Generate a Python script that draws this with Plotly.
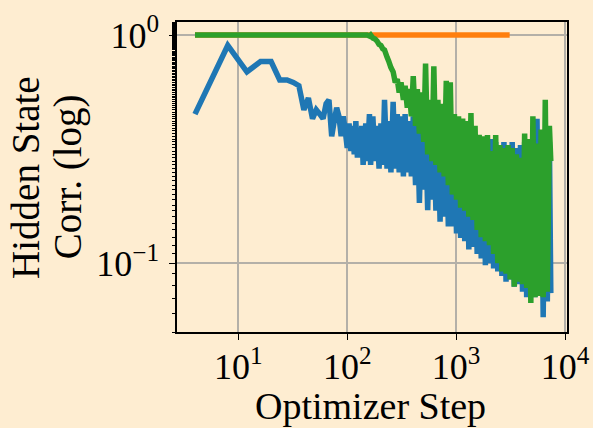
import plotly.graph_objects as go

# ---------------- data ----------------
EARLY_STEPS = [4, 8, 12, 16, 20, 24, 28, 32, 36, 40, 44, 48, 52, 56, 60,
               64, 68, 72, 76, 80, 84, 88, 92, 96, 100]
BLUE_EARLY = [0.45, 0.90, 0.69, 0.765, 0.765, 0.635, 0.635, 0.62, 0.60, 0.47,
              0.53, 0.43, 0.47, 0.45, 0.43, 0.50, 0.52, 0.36, 0.42, 0.48,
              0.44, 0.36, 0.44, 0.38, 0.32]
GREEN_EARLY = [1.0] * 25

DENSE_STEPS = [104, 108, 112, 116, 120, 124, 128, 132, 136, 140,
               148, 152, 160, 164, 172, 180, 188, 196, 204, 212,
               220, 232, 240, 252, 264, 276, 288, 300, 312, 328,
               340, 356, 372, 388, 404, 424, 440, 460, 480, 504,
               524, 548, 572, 600, 624, 652, 680, 712, 744, 776,
               812, 848, 884, 924, 964, 1008, 1052, 1100, 1148, 1200,
               1252, 1308, 1368, 1428, 1492, 1560, 1628, 1700, 1776, 1856,
               1940, 2024, 2116, 2208, 2308, 2412, 2520, 2632, 2748, 2872,
               3000, 3132, 3272, 3420, 3572, 3732, 3900, 4072, 4256, 4444,
               4644, 4852, 5068, 5292, 5528, 5776, 6032, 6300, 6584, 6876,
               7184, 7400]
BLUE_DENSE = [0.41, 0.31, 0.40, 0.30, 0.42, 0.29, 0.39, 0.31, 0.40, 0.27,
              0.41, 0.28, 0.45, 0.27, 0.44, 0.28, 0.40, 0.26, 0.41, 0.27,
              0.52, 0.26, 0.42, 0.25, 0.51, 0.26, 0.45, 0.25, 0.44, 0.24,
              0.45, 0.25, 0.42, 0.24, 0.44, 0.22, 0.42, 0.184, 0.40, 0.21,
              0.41, 0.171, 0.40, 0.19, 0.39, 0.17, 0.40, 0.152, 0.38, 0.16,
              0.39, 0.145, 0.37, 0.145, 0.38, 0.135, 0.37, 0.129, 0.36, 0.125,
              0.37, 0.115, 0.36, 0.118, 0.35, 0.11, 0.36, 0.105, 0.35, 0.098,
              0.34, 0.10, 0.35, 0.095, 0.34, 0.092, 0.33, 0.088, 0.34, 0.083,
              0.33, 0.085, 0.34, 0.079, 0.32, 0.081, 0.33, 0.075, 0.34, 0.071,
              0.33, 0.073, 0.35, 0.071, 0.43, 0.072, 0.36, 0.058, 0.35, 0.068,
              0.34, 0.074]
GREEN_DENSE = [1.0, 1.0, 1.0, 1.0, 1.0, 1.0, 1.0, 1.0, 1.0, 1.0,
               1.0, 1.0, 0.99, 1.0, 0.97, 0.96, 0.94, 0.91, 0.90, 0.87,
               0.86, 0.80, 0.77, 0.72, 0.69, 0.62, 0.64, 0.56, 0.62, 0.52,
               0.60, 0.48, 0.58, 0.44, 0.66, 0.40, 0.58, 0.37, 0.56, 0.34,
               0.75, 0.30, 0.52, 0.28, 0.73, 0.27, 0.52, 0.25, 0.50, 0.24,
               0.63, 0.22, 0.62, 0.20, 0.45, 0.19, 0.44, 0.175, 0.43, 0.17,
               0.42, 0.16, 0.455, 0.155, 0.40, 0.14, 0.365, 0.13, 0.36, 0.125,
               0.365, 0.12, 0.31, 0.11, 0.365, 0.10, 0.33, 0.092, 0.32, 0.09,
               0.33, 0.085, 0.32, 0.079, 0.30, 0.083, 0.29, 0.081, 0.37, 0.078,
               0.35, 0.067, 0.44, 0.071, 0.335, 0.072, 0.385, 0.071, 0.52, 0.075,
               0.40, 0.28]

ORANGE_STEPS = [4, 3100]
ORANGE_CORR = [1.0, 1.0]

X_TICKS = [10, 100, 1000, 10000]
X_TICK_TEXT = ["10<sup>1</sup>", "10<sup>2</sup>", "10<sup>3</sup>", "10<sup>4</sup>"]
Y_TICKS = [0.1, 1.0]
Y_TICK_TEXT = ["10<sup>\u22121</sup>", "10<sup>0</sup>"]

X_TITLE = "Optimizer Step"
Y_TITLE_1 = "Hidden State"
Y_TITLE_2 = "Corr. (log)"

BLUE = "#1f77b4"
ORANGE = "#ff7f0e"
GREEN = "#2ca02c"
BG = "#FEEDD1"
FONT = "Liberation Serif"
LW = 5.5

fig = go.Figure()
fig.add_trace(go.Scatter(x=ORANGE_STEPS, y=ORANGE_CORR, mode="lines",
                         line=dict(color=ORANGE, width=LW, simplify=False)))
fig.add_trace(go.Scatter(x=EARLY_STEPS + DENSE_STEPS, y=BLUE_EARLY + BLUE_DENSE,
                         mode="lines", line=dict(color=BLUE, width=LW, simplify=False)))
fig.add_trace(go.Scatter(x=EARLY_STEPS + DENSE_STEPS, y=GREEN_EARLY + GREEN_DENSE,
                         mode="lines", line=dict(color=GREEN, width=LW, simplify=False)))

axis_common = dict(showline=True, linecolor="black", linewidth=1.5, mirror=True,
                   showgrid=True, gridcolor="#b4b0a8", gridwidth=1.5,
                   ticks="outside", tickcolor="black", tickwidth=1.3, ticklen=6,
                   zeroline=False, automargin=False,
                   tickfont=dict(family=FONT, size=36, color="black"))

fig.update_xaxes(type="log", range=[0.437, 4.018], tickvals=X_TICKS, ticktext=X_TICK_TEXT,
                 ticklabelstandoff=-4, **axis_common)
fig.update_yaxes(type="log", range=[-1.301, 0.057], tickvals=Y_TICKS, ticktext=Y_TICK_TEXT,
                 ticklabelstandoff=3,
                 minor=dict(ticks="outside", ticklen=3.5, tickcolor="black", tickwidth=1.1,
                            showgrid=False),
                 **axis_common)

fig.add_annotation(text=X_TITLE, xref="paper", yref="paper", x=0.495, y=-0.24,
                   xanchor="center", yanchor="middle", showarrow=False,
                   font=dict(family=FONT, size=38, color="black"))
fig.add_annotation(text=Y_TITLE_1, xref="paper", yref="paper", x=-0.39, y=0.5,
                   xanchor="center", yanchor="middle", textangle=-90, showarrow=False,
                   font=dict(family=FONT, size=39, color="black"))
fig.add_annotation(text=Y_TITLE_2, xref="paper", yref="paper", x=-0.279, y=0.5,
                   xanchor="center", yanchor="middle", textangle=-90, showarrow=False,
                   font=dict(family=FONT, size=39, color="black"))

fig.update_layout(width=593, height=428, showlegend=False,
                  paper_bgcolor=BG, plot_bgcolor=BG,
                  margin=dict(l=177, r=26, t=22, b=96),
                  font=dict(family=FONT, color="black"))

fig.write_html("out.html", config={"displayModeBar": False},
               post_script="document.body.style.margin='0';document.body.style.overflow='hidden';")
